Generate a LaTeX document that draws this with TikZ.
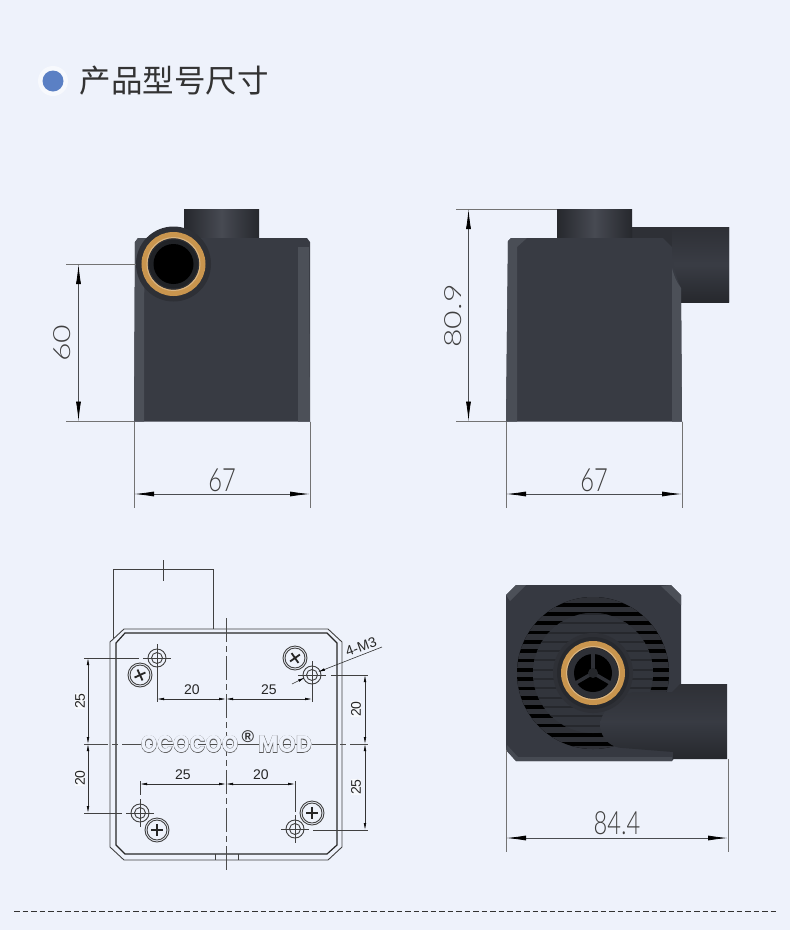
\documentclass[tikz,border=0pt]{standalone}
\usepackage{fontspec}
\usetikzlibrary{arrows.meta}
\setmainfont{Liberation Sans}
\newfontfamily\cjkfont{Noto Sans CJK SC}
\newfontfamily\thinfont{Lato Light}
\newfontfamily\logofont{Poppins Bold}
\newfontfamily\logoedge[RawFeature={embolden=3}]{Poppins Bold}
\newcommand{\logoword}[1]{\rlap{\logoedge\color{black!65}#1}{\color{pagebg}#1}}
\definecolor{pagebg}{HTML}{EEF2FB}
\definecolor{dotblue}{HTML}{5B80C4}
\definecolor{bodygray}{HTML}{383B43}
\definecolor{bandgray}{HTML}{4C5058}
\definecolor{pipedark}{HTML}{26282D}
\definecolor{pipelite}{HTML}{474A52}
\definecolor{portgray}{HTML}{2E3036}
\definecolor{gold}{HTML}{C9954E}
\definecolor{dimgray}{HTML}{4A4C50}
\tikzset{
  dimline/.style={draw=dimgray, line width=0.8pt},
  bigdim/.style={dimline, {Latex[length=20pt,width=5pt,black]}-{Latex[length=20pt,width=5pt,black]}},
  smalldim/.style={draw=black!80, line width=0.6pt, {Latex[length=7pt,width=2.6pt,black]}-{Latex[length=7pt,width=2.6pt,black]}},
  extline/.style={draw=gray!90!black, line width=1pt},
  bigtext/.style={font=\thinfont\fontsize{32}{32}\selectfont, text=black!75, xscale=0.74, inner sep=0pt},
  smalltext/.style={font=\fontsize{14}{14}\selectfont, text=black!85, inner sep=0.5pt},
  logotext/.style={font=\logofont\fontsize{24}{24}\selectfont, inner sep=0pt},
  plan/.style={draw=black!75, line width=0.9pt},
  planthin/.style={draw=black!75, line width=0.6pt},
  centerline/.style={draw=black!70, line width=0.7pt, dash pattern=on 24pt off 4pt on 6pt off 4pt}
}
\begin{document}
\begin{tikzpicture}[x=1pt,y=-1pt]
\fill[pagebg] (0,0) rectangle (790,930);

% heading
\fill[white!55!pagebg] (53,81) circle (15);
\fill[dotblue] (53,81) circle (10.5);
\node[font=\cjkfont\fontsize{31.5}{32}\selectfont, text=black!80, anchor=west, inner sep=0pt] (heading) at (79.5,81) {产品型号尺寸};

% view from the port side
\shade[left color=pipedark, right color=pipedark, middle color=pipelite] (184,209) rectangle (259,239);
\fill[bodygray] (135,242) -- (138,238) -- (307,238) -- (310,242) -- (310,421.5) -- (134,421.5) -- cycle;
\fill[bandgray] (135,242) -- (138,238) -- (146,238) -- (144,300) -- (144,421.5) -- (134,421.5) -- cycle;
\fill[bandgray] (298,247) -- (309,247) -- (310,421.5) -- (298,421.5) -- cycle;
\fill[portgray] (173.5,264) circle (37.5);
\draw[gold, line width=6pt] (173.5,264) circle (29);
\draw[gold!70!white, line width=1pt] (173.5,264) circle (26.5);
\fill[portgray!70!black] (173.5,264) circle (24.5);
\fill[black] (173.5,264) circle (20);

\coordinate (aT) at (78.5,264);
\coordinate (aB) at (78.5,421.5);
\coordinate (bL) at (134,494);
\coordinate (bR) at (310,494);
\draw[extline] (66,264) -- (136,264);
\draw[extline] (66,421.5) -- (134,421.5);
\draw[bigdim] (aT) -- (aB);
\draw[extline] (134,421.5) -- (134,508);
\draw[extline] (310,421.5) -- (310,508);
\draw[bigdim] (bL) -- (bR);
\node[bigtext, rotate=90] (heightA) at (62,343) {60};
\node[bigtext] (widthA) at (222,480) {67};

% side view
\fill[portgray] (605,239) .. controls (611,231) and (620,227) .. (632,227) -- (729,227) -- (729,302) -- (680,302) -- (672,250) -- cycle;
\shade[top color=portgray, bottom color=pipedark, middle color=bodygray!90!pipelite] (672,227) rectangle (729,302);
\shade[left color=pipedark, right color=pipedark, middle color=pipelite] (557,209) rectangle (632,239);
\fill[bodygray] (508,241) -- (511,238) -- (663,238) -- (672,247) .. controls (672,262) and (676,278) .. (681,288) -- (682,421.5) -- (506,421.5) -- cycle;
\fill[bandgray!90!bodygray] (508,241) -- (511,238) -- (527,238) -- (517,247) -- (517,421.5) -- (506,421.5) -- cycle;
\fill[bandgray] (672,268) .. controls (674,276) and (677,283) .. (681,288) -- (682,421.5) -- (672,421.5) -- cycle;

\coordinate (cT) at (468.5,209);
\coordinate (cB) at (468.5,421.5);
\coordinate (dL) at (506,494);
\coordinate (dR) at (682,494);
\draw[extline] (456,209) -- (557,209);
\draw[extline] (456,421.5) -- (506,421.5);
\draw[bigdim] (cT) -- (cB);
\draw[extline] (506,421.5) -- (506,508);
\draw[extline] (682,421.5) -- (682,508);
\draw[bigdim] (dL) -- (dR);
\node[bigtext, rotate=90] (heightB) at (453,316) {80.9};
\node[bigtext] (widthB) at (594,480) {67};

% plan with the holes
\draw[plan] (113,640) -- (113,569) -- (213,569) -- (213,629);
\draw[plan] (163,560) -- (163,581);
\draw[plan, fill=pagebg] (124,629) -- (328,629) -- (342,642) -- (342,847) -- (328,860) -- (124,860) -- (110,847) -- (110,642) -- cycle;
\draw[plan, line width=1.2pt, black!85] (125,633) -- (327,633) -- (337,643) -- (337,845) -- (327,854) -- (125,854) -- (116,845) -- (116,643) -- cycle;
\draw[plan] (215,854) -- (215,860) (238,854) -- (238,860);
\draw[centerline] (226,618) -- (226,870);
\draw[centerline] (84,744) -- (368,744);

\node[logotext, xscale=0.87] (logoA) at (189.5,744) {\logoword{OCOCOO}};
\node[logotext, xscale=0.92] (logoB) at (285,744) {\logoword{MOD}};
\node[font=\bfseries\fontsize{17}{17}\selectfont, text=black!80, inner sep=0pt] (logoC) at (248,737) {®};

\foreach \x/\y in {157/658, 312/675, 140/813, 295/829}{
  \draw[plan, fill=pagebg] (\x,\y) circle (9);
  \draw[plan] (\x,\y) circle (5.5);
  \draw[planthin] (\x-14,\y) -- (\x+14,\y) (\x,\y-14) -- (\x,\y+14);
}
\foreach \x/\y/\a in {140/675/25, 295/658/35, 157/830/0, 312/813/0}{
  \draw[plan, fill=pagebg] (\x,\y) circle (12);
  \draw[plan] (\x,\y) circle (10);
  \draw[line width=1.8pt, black!85, rotate around={\a:(\x,\y)}] (\x-6,\y) -- (\x+6,\y) (\x,\y-6) -- (\x,\y+6);
}

% dimensions of the plan
\draw[planthin] (84,658) -- (139,658);
\draw[planthin] (84,813) -- (122,813);
\draw[planthin] (331,675) -- (368,675);
\draw[planthin] (313,830) -- (368,830);
\draw[planthin] (157,668) -- (157,702);
\draw[planthin] (312,685) -- (312,702);
\draw[planthin] (140,781) -- (140,795);
\draw[planthin] (295,781) -- (295,812);
\draw[smalldim] (88,658) -- (88,744);
\draw[smalldim] (88,744) -- (88,813);
\draw[smalldim] (365,675) -- (365,744);
\draw[smalldim] (365,744) -- (365,830);
\draw[smalldim] (157,699) -- (226,699);
\draw[smalldim] (226,699) -- (312,699);
\draw[smalldim] (140,784) -- (226,784);
\draw[smalldim] (226,784) -- (295,784);
\node[smalltext, rotate=90, fill=white!60!pagebg] (leftA) at (80,701) {25};
\node[smalltext, rotate=90, fill=white!60!pagebg] (leftB) at (80,778) {20};
\node[smalltext, rotate=90, fill=white!60!pagebg] (rightA) at (356,709) {20};
\node[smalltext, rotate=90, fill=white!60!pagebg] (rightB) at (356,787) {25};
\node[smalltext] (topA) at (192,690) {20};
\node[smalltext] (topB) at (269,690) {25};
\node[smalltext] (lowA) at (183,775) {25};
\node[smalltext] (lowB) at (261,775) {20};
\node[smalltext, rotate=20] (thread) at (361,647) {4-M3};
\coordinate (threadEnd) at (382,647);
\coordinate (holeA) at (318,672);
\coordinate (holeB) at (305,677.5);
\coordinate (threadTail) at (292,684);
\draw[draw=black!80, line width=0.6pt, -{Latex[length=7pt,width=2.6pt,black]}] (threadEnd) -- (holeA);
\draw[draw=black!80, line width=0.6pt, -{Latex[length=7pt,width=2.6pt,black]}] (threadTail) -- (holeB);

% top view
\fill[bodygray!90!pipedark] (516,585) -- (671,585) -- (681,595) -- (681,750) -- (672,761) -- (516,761) -- (506,750) -- (506,595) -- cycle;
\fill[bandgray] (516,585) -- (526,585) -- (510,601) -- (506,595) -- cycle;
\fill[bandgray] (661,586) -- (671,585) -- (681,595) -- (681,605) -- cycle;
\fill[bandgray!70!bodygray] (506,750) -- (516,761) -- (672,761) -- (672,757) -- (518,757) -- (507,745) -- cycle;
\fill[black] (593,673) circle (76);
\begin{scope}
\clip (593,673) circle (76);
\foreach \y in {0,...,16}
\draw[portgray!90!bodygray, line width=5.6pt] (510,600+9.3*\y) -- (680,600+9.3*\y);
\end{scope}
\fill[bodygray!90!black] (593,673) circle (60);
\begin{scope}
\clip (593,673) circle (60);
\foreach \y in {0,...,16}
\draw[pipedark, line width=2pt] (510,604.6+9.3*\y) -- (680,604.6+9.3*\y);
\end{scope}
\shade[top color=portgray, bottom color=pipedark, middle color=bodygray] (727,684) -- (680,684) -- (672,692) -- (633,692) .. controls (612,700) and (600,712) .. (600,727) .. controls (602,740) and (612,748) .. (623,748) -- (673,752) -- (673,759) -- (727,759) -- cycle;
\fill[portgray] (593,673) circle (40);
\fill[portgray!85!black] (593,673) circle (36);
\draw[gold, line width=6pt] (593,673) circle (29);
\draw[gold!70!white, line width=1pt] (593,673) circle (26.5);
\fill[portgray] (593,673) circle (25);
\fill[black] (593,673) circle (19);
\foreach \a in {30,150,270}
\draw[portgray, line width=3.5pt] (593,673) -- ++(\a:20);
\fill[portgray!80!black] (593,673) circle (5);

\coordinate (eL) at (506,838);
\coordinate (eR) at (728,838);
\draw[extline] (506,750) -- (506,852);
\draw[extline] (728,759) -- (728,852);
\draw[bigdim] (eL) -- (eR);
\node[bigtext] (widthC) at (617,823) {84.4};

\draw[draw=black!80, line width=1pt, dash pattern=on 5.5pt off 3pt] (14,911) -- (776,911);
\end{tikzpicture}
\end{document}
